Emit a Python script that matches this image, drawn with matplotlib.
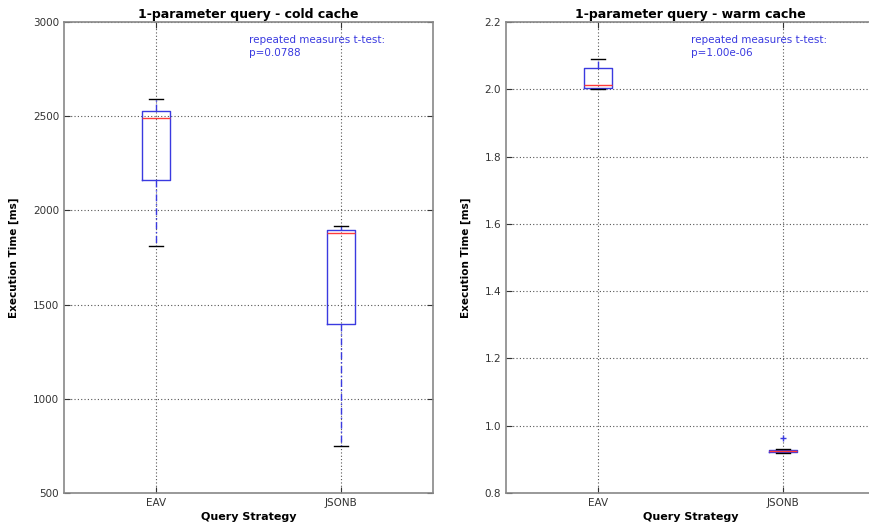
import matplotlib
matplotlib.use("Agg")
import matplotlib.pyplot as plt

categories = ["EAV", "JSONB"]

# cold cache stats (ms)
cold_whislo = [1811, 750]
cold_q1 = [2161, 1397]
cold_med = [2490, 1880]
cold_q3 = [2528, 1896]
cold_whishi = [2591, 1917]
cold_fliers = [[], []]
cold_p = "p=0.0788"

# warm cache stats (ms)
warm_whislo = [2.000, 0.920]
warm_q1 = [2.003, 0.922]
warm_med = [2.013, 0.926]
warm_q3 = [2.062, 0.928]
warm_whishi = [2.090, 0.930]
warm_fliers = [[], [0.962]]
warm_p = "p=1.00e-06"

titles = ["1-parameter query - cold cache", "1-parameter query - warm cache"]
cold_yticks = [500, 1000, 1500, 2000, 2500, 3000]
warm_yticks = [0.8, 1.0, 1.2, 1.4, 1.6, 1.8, 2.0, 2.2]

fig = plt.figure(figsize=(8.7, 5.26), dpi=100)
W, H = 870, 526
ax1 = fig.add_axes([64 / W, 1 - 493 / H, 369 / W, 471 / H])
ax2 = fig.add_axes([506 / W, 1 - 493 / H, 369 / W, 471 / H])


def make_stats(wl, q1, med, q3, wh, fl):
    return [dict(whislo=a, q1=b, med=c, q3=d, whishi=e, fliers=f, label=lab)
            for a, b, c, d, e, f, lab in zip(wl, q1, med, q3, wh, fl, categories)]


def style(ax, stats, yticks, ylim, title, ptxt, fmt):
    ax.bxp(stats, positions=[1, 2], widths=0.15,
           boxprops=dict(color="#3a3ae0", linewidth=1.0),
           medianprops=dict(color="#ff3b3b", linewidth=1.0),
           whiskerprops=dict(color="#3a3ae0", linestyle=(0, (5, 2, 1, 2)), linewidth=1.0),
           capprops=dict(color="black", linewidth=1.0),
           flierprops=dict(marker="+", markeredgecolor="#3a3ae0", markersize=5),
           capwidths=0.075)
    ax.set_xlim(0.5, 2.5)
    ax.set_ylim(*ylim)
    ax.set_yticks(yticks)
    ax.set_yticklabels([fmt(v) for v in yticks])
    ax.set_xticks([1, 2])
    ax.set_xticklabels(categories)
    ax.grid(True, color="#555555", linestyle=(0, (1, 2)), linewidth=0.8)
    ax.set_axisbelow(True)
    ax.tick_params(direction="in", top=True, right=True, labelsize=7.5,
                   colors="#333333", length=4)
    for s in ax.spines.values():
        s.set_color("#888888")
        s.set_linewidth(1.2)
    ax.set_title(title, fontsize=9, fontweight="bold", pad=3)
    ax.set_ylabel("Execution Time [ms]", fontsize=7.5, fontweight="bold", labelpad=10)
    ax.set_xlabel("Query Strategy", fontsize=8, fontweight="bold", labelpad=3)
    ax.text(0.502, 0.972, "repeated measures t-test:\n" + ptxt, transform=ax.transAxes,
            color="#3a3ae0", fontsize=7.5, va="top", ha="left", linespacing=1.35)


style(ax1, make_stats(cold_whislo, cold_q1, cold_med, cold_q3, cold_whishi, cold_fliers),
      cold_yticks, (500, 3000), titles[0], cold_p, lambda v: f"{v:d}")
style(ax2, make_stats(warm_whislo, warm_q1, warm_med, warm_q3, warm_whishi, warm_fliers),
      warm_yticks, (0.8, 2.2), titles[1], warm_p, lambda v: f"{v:.1f}")
# the right panel's right border falls outside the cropped figure in the reference
ax2.spines["right"].set_visible(False)
ax2.tick_params(right=False)

fig.savefig("out.png", dpi=100)
